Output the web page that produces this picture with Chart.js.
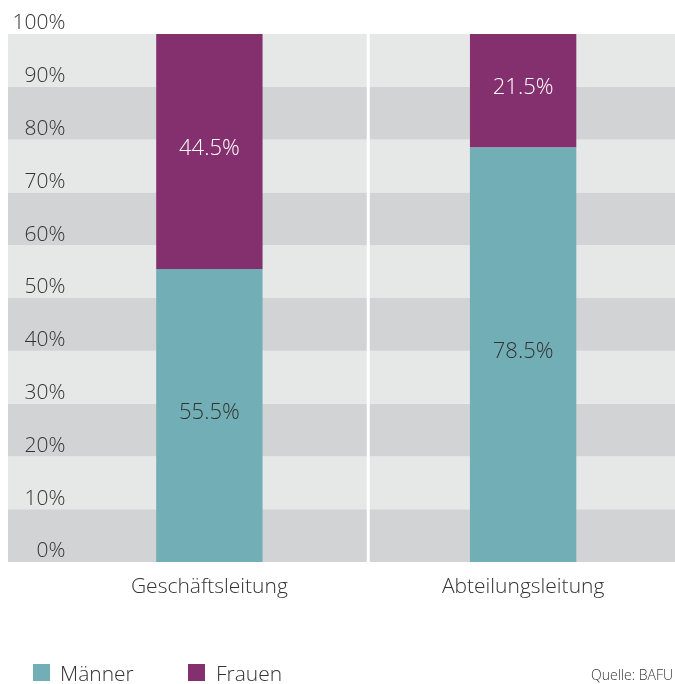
<!DOCTYPE html>
<html>
<head>
<meta charset="utf-8">
<script src="https://cdn.jsdelivr.net/npm/chart.js@4/dist/chart.umd.min.js"></script>
<style>
  html, body { margin: 0; padding: 0; background: #fff; overflow: hidden; width: 675px; height: 684px; }
  #wrap { position: relative; width: 680px; height: 684px; }
  #legend { position: absolute; left: 0; top: 661px; width: 675px; height: 23px; font-family: "Open Sans", sans-serif; color: #333; }
  .item { position: absolute; top: 0; font-size: 21px; line-height: 24px; font-weight: 300; }
  .sw { position: absolute; top: 3px; width: 17px; height: 17px; }
  #src { position: absolute; right: 2px; top: 5px; font-size: 14px; line-height: 18px; color: #333; font-weight: 300; }
</style>
</head>
<body>
<div id="wrap">
  <canvas id="c" width="680" height="684"></canvas>
  <div id="legend"></div>
</div>
<script>
const categories = ["Geschäftsleitung", "Abteilungsleitung"];
const seriesNames = ["Männer", "Frauen"];
const maenner = [55.5, 78.5];
const frauen = [44.5, 21.5];
const yTicks = [0, 10, 20, 30, 40, 50, 60, 70, 80, 90, 100];
const source = "Quelle: BAFU";

const colors = ["#72aeb5", "#84306e"];
const labelColors = ["#333333", "#ffffff"];
const bandLight = "#e6e7e7";
const bandDark = "#d2d3d5";
const FONT = "Open Sans";

const bgPlugin = {
  id: "bands",
  beforeDraw(chart) {
    const ctx = chart.ctx, y = chart.scales.y, x = chart.scales.x, a = chart.chartArea;
    ctx.save();
    for (let i = 0; i < yTicks.length - 1; i++) {
      const top = y.getPixelForValue(yTicks[i + 1]);
      const bot = y.getPixelForValue(yTicks[i]);
      ctx.fillStyle = (i % 2 === 0) ? bandDark : bandLight;
      ctx.fillRect(8, top, a.right - 8, bot - top);
    }
    const mid = (x.getPixelForValue(0) + x.getPixelForValue(1)) / 2 + 2;
    ctx.fillStyle = "#ffffff";
    ctx.fillRect(mid - 1.5, a.top, 3, a.bottom - a.top);
    ctx.restore();
  }
};

const labelPlugin = {
  id: "vals",
  afterDatasetsDraw(chart) {
    const ctx = chart.ctx;
    ctx.save();
    ctx.font = '300 22px "' + FONT + '", sans-serif';
    ctx.textAlign = "center";
    ctx.textBaseline = "middle";
    chart.data.datasets.forEach((ds, di) => {
      const meta = chart.getDatasetMeta(di);
      meta.data.forEach((bar, i) => {
        const v = ds.data[i];
        const cy = (bar.y + bar.base) / 2 - 3;
        ctx.fillStyle = labelColors[di];
        ctx.fillText(v.toFixed(1) + "%", bar.x, cy);
      });
    });
    ctx.restore();
  }
};

new Chart(document.getElementById("c"), {
  type: "bar",
  data: {
    labels: categories,
    datasets: [
      { label: seriesNames[0], data: maenner, backgroundColor: colors[0], borderWidth: 0 },
      { label: seriesNames[1], data: frauen, backgroundColor: colors[1], borderWidth: 0 }
    ]
  },
  options: {
    responsive: false,
    animation: false,
    devicePixelRatio: 1,
    layout: { padding: { top: 34, left: 20, right: 0, bottom: 0 } },
    datasets: { bar: { categoryPercentage: 1, barPercentage: 0.339 } },
    plugins: { legend: { display: false }, tooltip: { enabled: false } },
    scales: {
      x: {
        stacked: true,
        grid: { display: false, drawTicks: false },
        border: { display: false },
        ticks: { color: "#333", font: { family: FONT, size: 21, weight: 300 }, padding: 12, maxRotation: 0 },
        afterFit(s) { s.height = 122; }
      },
      y: {
        stacked: true,
        min: 0, max: 100,
        grid: { display: false, drawTicks: false },
        border: { display: false },
        afterBuildTicks(s) { s.ticks = yTicks.map(v => ({ value: v })); },
        ticks: {
          color: "#333",
          font: { family: FONT, size: 21, weight: 300 },
          mirror: true,
          crossAlign: "far",
          padding: -40,
          labelOffset: -10.5,
          callback: v => v + "%"
        },
        afterFit(s) { s.width = 32.5; }
      }
    }
  },
  plugins: [bgPlugin, labelPlugin]
});

const leg = document.getElementById("legend");
const pos = [{ sw: 33, tx: 60 }, { sw: 188, tx: 216 }];
seriesNames.forEach((n, i) => {
  const s = document.createElement("div");
  s.className = "sw"; s.style.left = pos[i].sw + "px"; s.style.background = colors[i];
  leg.appendChild(s);
  const t = document.createElement("div");
  t.className = "item"; t.style.left = pos[i].tx + "px"; t.textContent = n;
  leg.appendChild(t);
});
const src = document.createElement("div");
src.id = "src"; src.textContent = source;
leg.appendChild(src);
</script>
</body>
</html>
